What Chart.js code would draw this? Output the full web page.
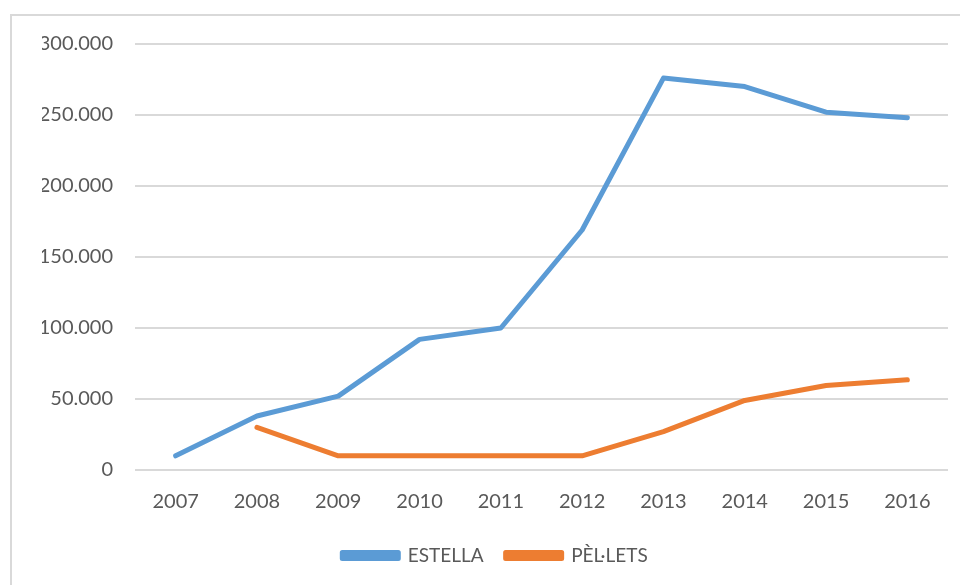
<!DOCTYPE html>
<html>
<head>
<meta charset="utf-8">
<script src="https://cdn.jsdelivr.net/npm/chart.js@4"></script>
<style>
  html, body { margin: 0; padding: 0; background: #fff; }
  body { width: 960px; height: 585px; position: relative; overflow: hidden; }
  #frame { position: absolute; left: 10px; top: 14px; width: 980px; height: 620px; border: 2px solid #D9D9D9; }
  #wrap { position: absolute; left: 0; top: 0; width: 960px; height: 585px; }
</style>
</head>
<body>
<div id="frame"></div>
<div id="wrap"><canvas id="chart"></canvas></div>
<script>
Chart.defaults.color = "#595959";
Chart.defaults.font.family = "Lato, 'Open Sans', sans-serif";
Chart.defaults.font.size = 20;

var years = ["2007", "2008", "2009", "2010", "2011", "2012", "2013", "2014", "2015", "2016"];
var estella = [10000, 38000, 52000, 92000, 100000, 169000, 276000, 270000, 252000, 248000];
var pellets = [null, 30000, 10000, 10000, 10000, 10000, 27000, 49000, 59500, 63500];

function thousands(v) {
  return String(v).replace(/\B(?=(\d{3})+(?!\d))/g, ".");
}

var chartData = {
  labels: years,
  datasets: [
    {
      label: "ESTELLA",
      data: estella,
      borderColor: "#5B9BD5",
      backgroundColor: "#5B9BD5",
    },
    {
      label: "PÈL·LETS",
      data: pellets,
      borderColor: "#ED7D31",
      backgroundColor: "#ED7D31",
    },
  ],
};

var chartOptions = {
  responsive: true,
  maintainAspectRatio: false,
  animation: false,
  layout: {
    padding: { top: 44, right: 12, left: 42, bottom: 10 },
  },
  elements: {
    line: {
      borderWidth: 5,
      borderCapStyle: "round",
      borderJoinStyle: "round",
      tension: 0,
    },
    point: { radius: 0 },
  },
  plugins: {
    legend: {
      position: "bottom",
      labels: {
        boxWidth: 56,
        boxHeight: 6,
        padding: 22,
        font: { size: 19 },
      },
    },
    tooltip: { enabled: false },
  },
  scales: {
    y: {
      min: 0,
      max: 300000,
      ticks: {
        stepSize: 50000,
        padding: 22,
        callback: function (v) { return thousands(v); },
      },
      grid: { color: "#D9D9D9", lineWidth: 2, drawTicks: false },
      border: { display: false },
      afterFit: function (s) { s.width = 93; },
    },
    x: {
      offset: true,
      ticks: { padding: 20, maxRotation: 0 },
      grid: { display: false, drawTicks: false },
      border: { display: false },
      afterFit: function (s) { s.height = 54; },
    },
  },
};

new Chart("chart", {
  type: "line",
  data: chartData,
  options: chartOptions,
});
</script>
</body>
</html>
